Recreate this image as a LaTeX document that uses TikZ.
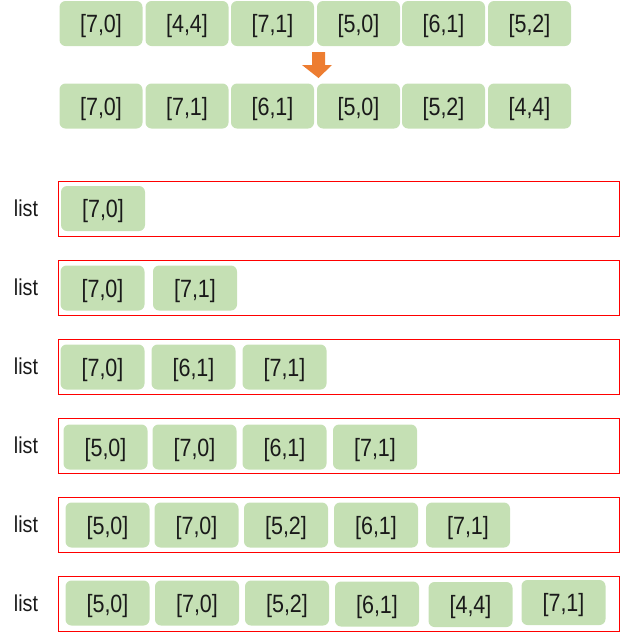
\documentclass[tikz,border=0pt]{standalone}
\usepackage{fontspec}
\setmainfont{Liberation Sans}
\newfontfamily\narrowfont[FakeStretch=0.86]{Liberation Sans}
\definecolor{boxgreen}{HTML}{C5E0B4}
\definecolor{arroworange}{HTML}{ED7D31}
\definecolor{listred}{HTML}{FF0000}
\definecolor{txt}{HTML}{1A1A1A}
\begin{document}
\begin{tikzpicture}[x=1pt,y=-1pt,
  gbox/.style={fill=boxgreen, rounded corners=6pt, minimum width=84pt, minimum height=45pt, inner sep=0pt, text depth=0pt, text=txt, font=\narrowfont\fontsize{25}{28}\selectfont},
  listbox/.style={draw=listred, line width=0.9pt, minimum width=561pt, minimum height=55pt, inner sep=0pt},
  listlbl/.style={text=txt, font=\narrowfont\fontsize{23}{26}\selectfont, inner sep=0pt}]
\useasboundingbox (0,0) rectangle (620,633);
% top rows
\foreach \n/\x/\t in {a1/101/{[7,0]},a2/187/{[4,4]},a3/272.5/{[7,1]},a4/358.5/{[5,0]},a5/443.5/{[6,1]},a6/529.5/{[5,2]}}
  \node[gbox, minimum width=83pt] (\n) at (\x,23.5) {\t};
\foreach \n/\x/\t in {b1/101/{[7,0]},b2/187/{[7,1]},b3/272.5/{[6,1]},b4/358.5/{[5,0]},b5/443.5/{[5,2]},b6/529.5/{[4,4]}}
  \node[gbox, minimum width=83pt] (\n) at (\x,106) {\t};
% block arrow
\fill[arroworange] (312,52) -- (325,52) -- (325,65) -- (332,65) -- (318.5,78) -- (302,65) -- (312,65) -- cycle;
% list rows
\foreach \i/\y in {1/208.5,2/287.5,3/366.5,4/445.5,5/524.5,6/603.5}{
  \node[listbox] (L\i) at (338.5,\y) {};
  \node[listlbl] (T\i) at (26,\y) {list};
}
% row 1
\node[gbox] (r1a) at (103,208.5) {[7,0]};
% row 2
\node[gbox] (r2a) at (102.5,288) {[7,0]};
\node[gbox] (r2b) at (195,288) {[7,1]};
% row 3
\node[gbox] (r3a) at (102.5,367) {[7,0]};
\node[gbox] (r3b) at (193.5,367) {[6,1]};
\node[gbox] (r3c) at (284.5,367) {[7,1]};
% row 4
\node[gbox] (r4a) at (105.5,447) {[5,0]};
\node[gbox] (r4b) at (194.5,447) {[7,0]};
\node[gbox] (r4c) at (284.5,447) {[6,1]};
\node[gbox] (r4d) at (375,447) {[7,1]};
% row 5
\node[gbox] (r5a) at (107.5,525) {[5,0]};
\node[gbox] (r5b) at (196.5,525) {[7,0]};
\node[gbox] (r5c) at (286,525) {[5,2]};
\node[gbox] (r5d) at (376,525) {[6,1]};
\node[gbox] (r5e) at (468,525) {[7,1]};
% row 6
\node[gbox] (r6a) at (107.5,603) {[5,0]};
\node[gbox] (r6b) at (197,603) {[7,0]};
\node[gbox] (r6c) at (287,603) {[5,2]};
\node[gbox] (r6d) at (377,604) {[6,1]};
\node[gbox] (r6e) at (470.5,604.5) {[4,4]};
\node[gbox] (r6f) at (563.5,602.5) {[7,1]};
\end{tikzpicture}
\end{document}
